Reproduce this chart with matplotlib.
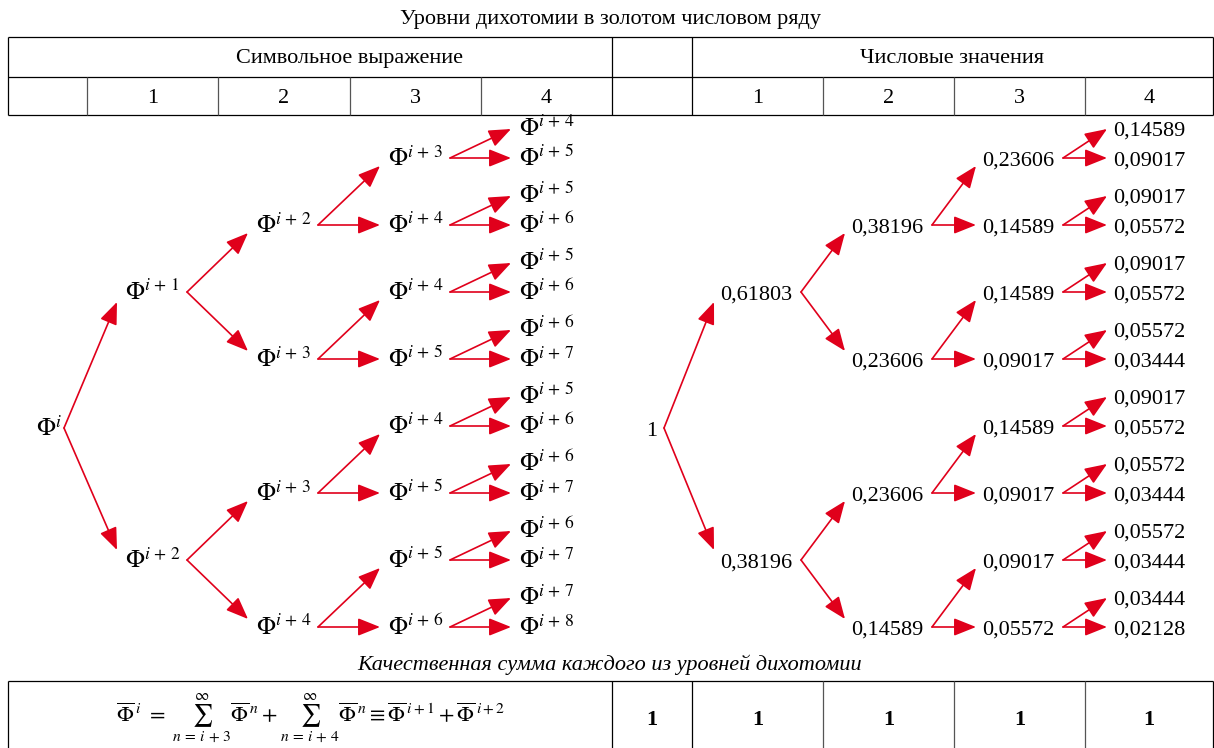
import matplotlib
matplotlib.use('Agg')
import matplotlib.pyplot as plt

plt.rcParams['font.family'] = ['Liberation Serif', 'DejaVu Serif']
plt.rcParams['mathtext.fontset'] = 'stix'

# Texts
title = 'Уровни дихотомии в золотом числовом ряду'
head_left = 'Символьное выражение'
head_right = 'Числовые значения'
level_labels = ['1', '2', '3', '4']
caption = 'Качественная сумма каждого из уровней дихотомии'
formula = (r'$\overline{\Phi}^{\,i}\ =\ \sum_{n\,=\,i\,+\,3}^{\infty}\overline{\Phi}^{\,n}+'
           r'\sum_{n\,=\,i\,+\,4}^{\infty}\overline{\Phi}^{\,n}\equiv\overline{\Phi}^{\,i+1}+\overline{\Phi}^{\,i+2}$')
level_sums = ['1', '1', '1', '1', '1']

# Tree: exponents of Phi per level (symbolic part)
sym_levels = [
    ['i'],
    ['i+1', 'i+2'],
    ['i+2', 'i+3', 'i+3', 'i+4'],
    ['i+3', 'i+4', 'i+4', 'i+5', 'i+4', 'i+5', 'i+5', 'i+6'],
    ['i+4', 'i+5', 'i+5', 'i+6', 'i+5', 'i+6', 'i+6', 'i+7',
     'i+5', 'i+6', 'i+6', 'i+7', 'i+6', 'i+7', 'i+7', 'i+8'],
]

# Tree: numeric values per level
num_levels = [
    ['1'],
    ['0,61803', '0,38196'],
    ['0,38196', '0,23606', '0,23606', '0,14589'],
    ['0,23606', '0,14589', '0,14589', '0,09017', '0,14589', '0,09017', '0,09017', '0,05572'],
    ['0,14589', '0,09017', '0,09017', '0,05572', '0,09017', '0,05572', '0,05572', '0,03444',
     '0,09017', '0,05572', '0,05572', '0,03444', '0,05572', '0,03444', '0,03444', '0,02128'],
]

red = '#e0001b'
fs = 16
fs_phi = 18

fig = plt.figure(figsize=(12.14, 7.48), dpi=100)
ax = fig.add_axes([0, 0, 1, 1])
ax.set_xlim(0, 1214)
ax.set_ylim(748, 0)
ax.axis('off')

# column edges
left_edges = [8, 87, 218, 350, 481, 612]
right_edges = [612, 692, 823, 954, 1085, 1213]


def hline(x0, x1, y):
    ax.plot([x0, x1], [y, y], color='black', lw=0.9, solid_capstyle='butt')


def vline(x, y0, y1, c='black'):
    ax.plot([x, x], [y0, y1], color=c, lw=0.9, solid_capstyle='butt')


# Top table
ax.text(610, 24, title, ha='center', va='baseline', fontsize=fs)
hline(8, 1213, 37)
hline(8, 1213, 77)
hline(8, 1213, 115)
for x in [8, 612, 692, 1213]:
    vline(x, 37, 115)
for x in [87, 218, 350, 481]:
    vline(x, 77, 115, '#555555')
for x in [823, 954, 1085]:
    vline(x, 77, 115, '#555555')
ax.text(350, 63, head_left, ha='center', va='baseline', fontsize=fs)
ax.text(952, 63, head_right, ha='center', va='baseline', fontsize=fs)
for k, lab in enumerate(level_labels):
    ax.text((left_edges[k + 1] + left_edges[k + 2]) / 2, 103, lab, ha='center', va='baseline', fontsize=fs)
    ax.text((right_edges[k + 1] + right_edges[k + 2]) / 2, 103, lab, ha='center', va='baseline', fontsize=fs)

# Row positions of the tree
y3 = [158 + 67 * k for k in range(8)]
ys = [None] * 5
ys[3] = y3
ys[4] = []
for y in y3:
    ys[4] += [y - 30, y]
ys[2] = [y3[2 * j + 1] for j in range(4)]
ys[1] = [(ys[2][2 * j] + ys[2][2 * j + 1]) / 2 for j in range(2)]
ys[0] = [(ys[1][0] + ys[1][1]) / 2 + 2]

tip_dy = [10, 8, 8, 1]


def arrow(x0, y0, x1, y1):
    ax.annotate('', xy=(x1, y1), xytext=(x0, y0),
                arrowprops=dict(arrowstyle='-|>,head_length=0.8,head_width=0.32',
                                color=red, lw=1.2, shrinkA=0, shrinkB=0,
                                mutation_scale=17))


def draw_tree(labels, edges, text_off, start_off, start0, tip_off, math, dy_text):
    size = fs_phi if math else fs
    for lev in range(5):
        for j, lab in enumerate(labels[lev]):
            y = ys[lev][j]
            s = r'$\Phi^{%s}$' % lab.replace('+', r'\,+\,') if math else lab
            if lev == 0:
                if math:
                    ax.text(edges[1] - 25, y + dy_text, s, ha='right', va='baseline', fontsize=size)
                else:
                    ax.text((edges[0] + edges[1]) / 2, y + dy_text, s, ha='center', va='baseline', fontsize=size)
            else:
                ax.text(edges[lev] + text_off, y + dy_text, s, ha='left', va='baseline', fontsize=size)
            if lev < 4:
                x0 = start0 if lev == 0 else edges[lev] + start_off
                xt = edges[lev + 1] + tip_off
                for c in (2 * j, 2 * j + 1):
                    yc = ys[lev + 1][c]
                    if yc < y:
                        yt = yc + tip_dy[lev]
                    elif yc > y:
                        yt = yc - tip_dy[lev]
                    else:
                        yt = yc
                    arrow(x0, y, xt, yt)


draw_tree(sym_levels, left_edges, 38, 100, 64, 30, True, 8)
draw_tree(num_levels, right_edges, 28, 109, 664, 22, False, 8)

# Bottom part
ax.text(610, 670, caption, ha='center', va='baseline', fontsize=fs, style='italic')
hline(8, 1213, 681)
for x in [8, 612, 692, 1213]:
    vline(x, 681, 748)
for x in [823, 954, 1085]:
    vline(x, 681, 748, '#555555')
ax.text(310, 719, formula, ha='center', va='center', fontsize=16)
sum_x = [652] + [(right_edges[k + 1] + right_edges[k + 2]) / 2 for k in range(4)]
for x, v in zip(sum_x, level_sums):
    ax.text(x, 725, v, ha='center', va='baseline', fontsize=fs, fontweight='bold')

fig.savefig('out.png', dpi=100)
